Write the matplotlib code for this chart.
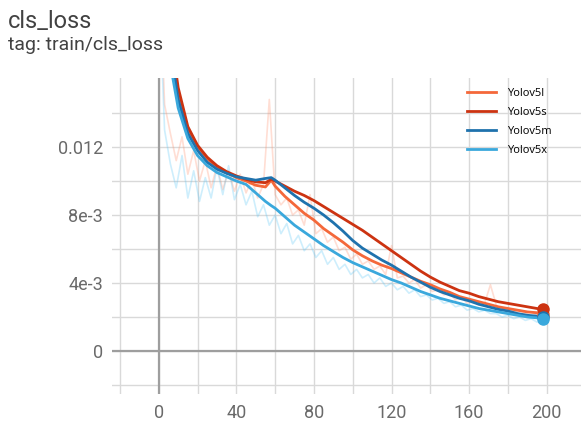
import matplotlib
matplotlib.use("Agg")
import matplotlib.pyplot as plt

# smoothed curves (values in 1e-3), sampled every 5 epochs plus the last one
epochs = [0, 5, 10, 15, 20, 25, 30, 35, 40, 45, 50, 55, 58, 60, 65, 70, 75, 80, 85, 90,
          95, 100, 105, 110, 115, 120, 125, 130, 135, 140, 145, 150, 155, 160, 165, 170,
          175, 180, 185, 190, 195, 198]

yolov5l = [30.0, 19.0, 15.2, 13.0, 12.0, 11.3, 10.8, 10.5, 10.2, 10.0, 9.75, 9.65, 10.05, 9.7,
           9.1, 8.6, 8.1, 7.7, 7.2, 6.8, 6.4, 5.95, 5.6, 5.3, 5.05, 4.85, 4.6, 4.35, 4.1, 3.9,
           3.65, 3.45, 3.2, 3.05, 2.9, 2.75, 2.6, 2.5, 2.4, 2.3, 2.25, 2.2]
yolov5s = [30.0, 19.5, 15.5, 13.2, 12.1, 11.4, 10.9, 10.55, 10.3, 10.1, 9.95, 9.9, 10.1, 10.0,
           9.7, 9.4, 9.15, 8.85, 8.5, 8.15, 7.8, 7.45, 7.1, 6.7, 6.3, 5.9, 5.5, 5.1, 4.7, 4.35,
           4.05, 3.8, 3.55, 3.4, 3.2, 3.05, 2.9, 2.8, 2.7, 2.6, 2.5, 2.45]
yolov5m = [30.0, 18.5, 14.8, 12.8, 11.8, 11.1, 10.7, 10.45, 10.25, 10.15, 10.05, 10.15, 10.2, 10.05,
           9.6, 9.15, 8.75, 8.4, 8.0, 7.55, 7.05, 6.5, 6.05, 5.7, 5.35, 5.05, 4.7, 4.35, 4.05, 3.75,
           3.5, 3.3, 3.1, 2.95, 2.75, 2.6, 2.45, 2.35, 2.2, 2.1, 2.05, 2.0]
yolov5x = [30.0, 17.5, 14.3, 12.5, 11.5, 10.9, 10.5, 10.25, 10.0, 9.8, 9.3, 8.8, 8.55, 8.4,
           7.9, 7.4, 7.0, 6.6, 6.2, 5.85, 5.5, 5.2, 4.95, 4.7, 4.45, 4.2, 4.0, 3.75, 3.5, 3.3,
           3.1, 2.95, 2.8, 2.65, 2.5, 2.4, 2.3, 2.2, 2.1, 2.0, 1.95, 1.9]

# raw (unsmoothed) traces, every 3 epochs
raw_epochs = list(range(0, 199, 3))
raw_l = [24.0, 14.5, 12.8, 11.2, 12.6, 10.4, 11.8, 10.0, 11.2, 9.6, 10.9, 9.5, 10.6, 9.4,
         10.4, 9.3, 10.1, 9.0, 9.8, 14.8, 9.2, 8.6, 9.0, 8.0, 8.3, 7.4, 9.2, 6.9, 7.2, 6.4,
         6.7, 5.9, 6.1, 5.4, 5.7, 5.1, 5.3, 4.8, 5.0, 4.5, 6.2, 4.3, 4.4, 4.0, 4.2, 3.7,
         3.9, 3.5, 3.6, 3.3, 3.4, 3.0, 3.2, 2.8, 3.0, 2.7, 2.8, 3.9, 2.7, 2.4, 2.5, 2.3,
         2.4, 2.2, 2.3, 2.1, 2.2]
raw_x = [22.0, 13.0, 11.0, 9.6, 11.5, 9.0, 10.6, 8.8, 10.2, 9.0, 10.8, 9.2, 10.9, 8.9,
         9.8, 8.6, 9.4, 7.9, 8.6, 7.4, 8.0, 6.9, 7.5, 6.3, 6.8, 5.9, 6.3, 5.5, 5.9, 5.1,
         5.5, 4.8, 5.1, 4.5, 4.8, 4.3, 4.5, 4.0, 4.3, 3.8, 4.0, 3.6, 3.8, 3.4, 3.6, 3.2,
         3.3, 3.0, 3.1, 2.8, 2.9, 2.6, 2.7, 2.4, 2.5, 2.3, 2.4, 2.2, 2.2, 2.0, 2.1, 1.9,
         2.0, 1.8, 1.9, 1.7, 1.8]

SERIES = [
    ("Yolov5l", yolov5l, "#f4683a"),
    ("Yolov5s", yolov5s, "#cc3311"),
    ("Yolov5m", yolov5m, "#1f72ad"),
    ("Yolov5x", yolov5x, "#3aa8dc"),
]

x_ticks = [0, 40, 80, 120, 160, 200]
y_ticks = [0.0, 0.004, 0.008, 0.012]
y_tick_labels = ["0", "4e-3", "8e-3", "0.012"]

plt.rcParams["font.family"] = ["Roboto", "DejaVu Sans"]

fig = plt.figure(figsize=(5.81, 4.24), dpi=100)
fig.text(0.013, 0.934, "cls_loss", fontsize=17, color="#424242", va="baseline")
fig.text(0.013, 0.882, "tag: train/cls_loss", fontsize=14, color="#424242", va="baseline")

ax = fig.add_axes([0.1928, 0.0708, 0.8072, 0.7452])
ax.set_xlim(-24.1, 217.7)
ax.set_ylim(-0.00253, 0.01606)

for e in range(-20, 221, 20):
    ax.axvline(e, color="#d9d9d9", lw=1, zorder=0)
for k in range(-2, 15, 2):
    ax.axhline(k * 1e-3, color="#d9d9d9", lw=1, zorder=0)
ax.axvline(0, color="#9e9e9e", lw=1.6, zorder=1)
ax.axhline(0, color="#9e9e9e", lw=1.6, zorder=1)

ax.plot(raw_epochs, [v * 1e-3 for v in raw_l], color="#ff8a65", alpha=0.28, lw=1.2, zorder=2)
ax.plot(raw_epochs, [v * 1e-3 for v in raw_x], color="#4fc3f7", alpha=0.28, lw=1.2, zorder=2)

for name, values, color in SERIES:
    vals = [v * 1e-3 for v in values]
    ax.plot(epochs, vals, color=color, lw=2, label=name, zorder=3)
    ax.plot(epochs[-1], vals[-1], "o", color=color, ms=8, zorder=4)

for s in ax.spines.values():
    s.set_visible(False)
ax.set_xticks(x_ticks)
ax.set_yticks(y_ticks)
ax.set_yticklabels(y_tick_labels)
ax.tick_params(length=0, labelsize=13, colors="#6a6a6a")
ax.tick_params(axis="y", pad=6.5)
ax.tick_params(axis="x", pad=7)

leg = fig.legend(loc="upper left", bbox_to_anchor=(0.795, 0.805), frameon=False,
                 prop={"family": ["Open Sans", "DejaVu Sans"], "size": 8},
                 handlelength=2.6, handletextpad=1.0, labelspacing=0.72, borderpad=0)

fig.savefig("out.png", dpi=100)
